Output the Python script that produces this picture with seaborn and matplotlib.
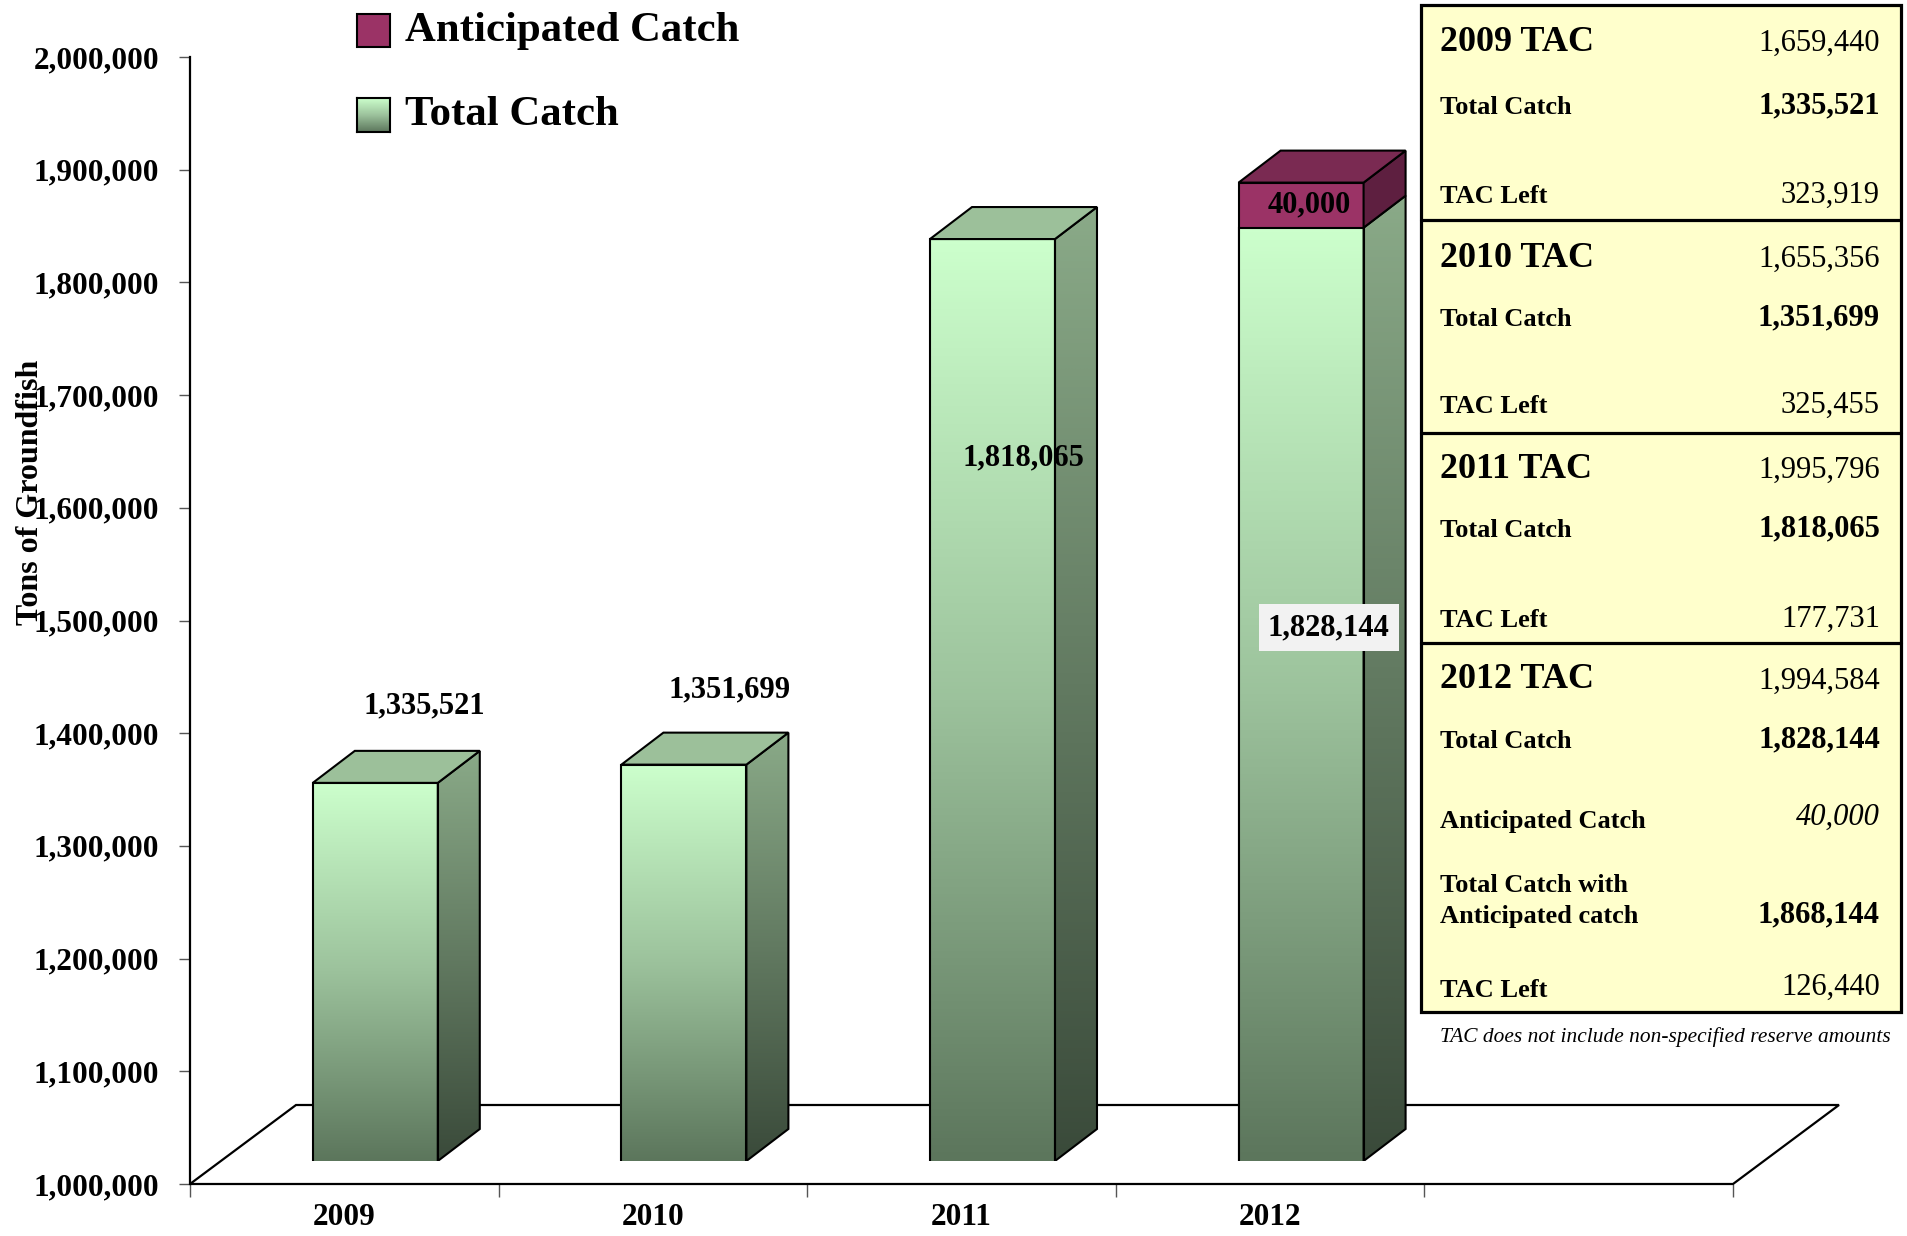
import numpy as np
import pandas as pd
import matplotlib
matplotlib.use('Agg')
import matplotlib.pyplot as plt
import seaborn as sns
from matplotlib.patches import Polygon, Rectangle
from matplotlib.colors import LinearSegmentedColormap

# ---------------- data ----------------
years = ['2009', '2010', '2011', '2012']
slots = years + ['']
total_catch = [1335521, 1351699, 1818065, 1828144]
anticipated = [0, 0, 0, 40000]
tac = [1659440, 1655356, 1995796, 1994584]
tac_left = [323919, 325455, 177731, 126440]
total_with_anticipated = 1868144
y_ticks = list(range(1000000, 2000001, 100000))

# ---------------- style ----------------
W, H, DPI = 1907, 1236, 100
sns.set_theme(style='white')
plt.rcParams['font.family'] = ['Liberation Serif', 'DejaVu Serif']
plt.rcParams['text.color'] = 'black'
plt.rcParams['axes.labelcolor'] = 'black'
plt.rcParams['xtick.color'] = 'black'
plt.rcParams['ytick.color'] = 'black'

PURPLE = '#9b3366'
PURPLE_TOP = '#7a2a52'
PURPLE_SIDE = '#5e1f40'
GREEN_TOP = '#9cc09a'
front_cmap = LinearSegmentedColormap.from_list(
    'front', [(0.0, '#5c765c'), (0.5, '#9cc29c'), (1.0, '#ccffcc')])
side_cmap = LinearSegmentedColormap.from_list('side', ['#3a4a3a', '#8aaa88'])
grad = np.linspace(0, 1, 256).reshape(-1, 1)

fig = plt.figure(figsize=(W / DPI, H / DPI), dpi=DPI)
fig.patch.set_facecolor('white')


def fx(px):
    return px / W


def fy(py):
    return 1 - py / H


# ---------------- main (floor) axes ----------------
AX_L, AX_R, AX_T, AX_B = 190, 1733, 57, 1184
ymin, ymax = 1_000_000, 2_000_000
ax = fig.add_axes([fx(AX_L), fy(AX_B), (AX_R - AX_L) / W, (AX_B - AX_T) / H])
ax.set_xlim(-0.5, 4.5)
ax.set_ylim(ymin, ymax)
px_per_x = (AX_R - AX_L) / 5
px_per_y = (AX_B - AX_T) / (ymax - ymin)


def dxy(px, py):
    return px / px_per_x, py / px_per_y


fdx, fdy = dxy(106, 79)
floor = Polygon([(-0.5, ymin), (4.5, ymin), (4.5 + fdx, ymin + fdy), (-0.5 + fdx, ymin + fdy)],
                closed=True, facecolor='white', edgecolor='black', lw=1.6, clip_on=False, zorder=1)
ax.add_patch(floor)

for s in ['top', 'right', 'bottom']:
    ax.spines[s].set_visible(False)
ax.spines['left'].set_color('black')
ax.spines['left'].set_linewidth(1.6)

ax.set_yticks(y_ticks)
ax.set_yticklabels([f'{v:,}' for v in y_ticks], fontsize=22.5, fontweight='bold', color='black')
ax.tick_params(axis='y', left=True, length=8, width=1, color='#555555', labelcolor='black',
               pad=14, direction='out')
ax.set_xticks(np.arange(-0.5, 5.0, 1.0))
ax.set_xticklabels([])
ax.set_xticks(range(len(years)), minor=True)
ax.set_xticklabels(years, minor=True, fontsize=22.5, fontweight='bold', color='black')
ax.tick_params(axis='x', which='major', bottom=True, length=9, width=1, color='#555555', direction='out')
ax.tick_params(axis='x', which='minor', bottom=True, length=0, pad=14, labelcolor='black')
ax.set_xlabel('')
ax.set_ylabel('')
fig.text(fx(31), fy(492), 'Tons of Groundfish', rotation=90, fontsize=23, fontweight='bold',
         ha='center', va='center', color='black')

# ---------------- bar front plane axes ----------------
OFF_X, OFF_Y = 31, 23
axf = fig.add_axes([fx(AX_L + OFF_X), fy(AX_B - OFF_Y), (AX_R - AX_L) / W, (AX_B - AX_T) / H])
df = pd.DataFrame({'year': years, 'total': total_catch, 'anticipated': anticipated})
df['stack'] = df['total'] + df['anticipated']
ant_df = df[df['anticipated'] > 0]

sns.barplot(data=ant_df, x='year', y='stack', order=slots, color=PURPLE, saturation=1,
            width=0.405, edgecolor='black', linewidth=1.5, errorbar=None, ax=axf, zorder=2)
purple_patches = list(axf.patches)
n0 = len(axf.patches)
sns.barplot(data=df, x='year', y='total', order=slots, color='#94ba94', saturation=1,
            width=0.405, edgecolor='black', linewidth=1.5, errorbar=None, ax=axf, zorder=4)
green_patches = list(axf.patches[n0:])

bdx, bdy = dxy(42, 32)
stack_top = {}
for p in purple_patches:
    x0, w, top = p.get_x(), p.get_width(), p.get_height()
    i = int(round(x0 + w / 2))
    stack_top[i] = top

for p in green_patches:
    x0, w, top = p.get_x(), p.get_width(), p.get_height()
    x1 = x0 + w
    i = int(round(x0 + w / 2))
    im = axf.imshow(grad, cmap=front_cmap, origin='lower', extent=[x0, x1, ymin, top],
                    aspect='auto', zorder=3, interpolation='bilinear')
    im.set_clip_path(p)
    p.set_facecolor('none')
    side = Polygon([(x1, ymin), (x1, top), (x1 + bdx, top + bdy), (x1 + bdx, ymin + bdy)],
                   closed=True, facecolor='none', edgecolor='black', lw=1.5, zorder=4)
    axf.add_patch(side)
    ims = axf.imshow(grad, cmap=side_cmap, origin='lower', extent=[x1, x1 + bdx, ymin, top + bdy],
                     aspect='auto', zorder=3, interpolation='bilinear')
    ims.set_clip_path(side)
    if i in stack_top:
        st = stack_top[i]
        pside = Polygon([(x1, top), (x1, st), (x1 + bdx, st + bdy), (x1 + bdx, top + bdy)],
                        closed=True, facecolor=PURPLE_SIDE, edgecolor='black', lw=1.5, zorder=4)
        axf.add_patch(pside)
        ptop = Polygon([(x0, st), (x1, st), (x1 + bdx, st + bdy), (x0 + bdx, st + bdy)],
                       closed=True, facecolor=PURPLE_TOP, edgecolor='black', lw=1.5, zorder=4)
        axf.add_patch(ptop)
    else:
        gtop = Polygon([(x0, top), (x1, top), (x1 + bdx, top + bdy), (x0 + bdx, top + bdy)],
                       closed=True, facecolor=GREEN_TOP, edgecolor='black', lw=1.5, zorder=4)
        axf.add_patch(gtop)

axf.set_xlim(-0.5, 4.5)
axf.set_ylim(ymin, ymax)
axf.axis('off')

# ---------------- bar labels (placed in floor-axes data coords) ----------------
lab_kw = dict(fontsize=22, fontweight='bold', transform=ax.transData, zorder=6, color='black')
axf.text(0 + 0.26, total_catch[0] + 82000, f'{total_catch[0]:,}', ha='center', va='baseline', **lab_kw)
axf.text(1 + 0.25, total_catch[1] + 80000, f'{total_catch[1]:,}', ha='center', va='baseline', **lab_kw)
axf.text(2 + 0.20, total_catch[2] - 174000, f'{total_catch[2]:,}', ha='center', va='center', **lab_kw)
axf.text(3 + 0.19, total_catch[3] - 341000, f'{total_catch[3]:,}', ha='center', va='baseline',
         bbox=dict(boxstyle='square,pad=0.3', facecolor='#f2f2f2', edgecolor='none'), **lab_kw)
axf.text(3 + 0.126, total_catch[3] + 34000, f'{anticipated[3]:,}', ha='center', va='baseline', **lab_kw)

# ---------------- legend ----------------
fig.add_artist(Rectangle((fx(357), fy(47)), 33 / W, 33 / H, transform=fig.transFigure,
                         facecolor=PURPLE, edgecolor='black', lw=1.5))
lax = fig.add_axes([fx(357), fy(132), 33 / W, 34 / H])
lax.imshow(grad, cmap=front_cmap, origin='lower', aspect='auto', extent=[0, 1, 0, 1])
lax.set_xticks([])
lax.set_yticks([])
for s in lax.spines.values():
    s.set_visible(True)
    s.set_color('black')
    s.set_linewidth(1.5)
fig.text(fx(405), fy(41), 'Anticipated Catch', fontsize=30.8, fontweight='bold', ha='left', va='baseline')
fig.text(fx(405), fy(125), 'Total Catch', fontsize=30.8, fontweight='bold', ha='left', va='baseline')

# ---------------- TAC table ----------------
TL, TR, TT, TB = 1421, 1901, 5, 1012
fig.add_artist(Rectangle((fx(TL), fy(TB)), (TR - TL) / W, (TB - TT) / H, transform=fig.transFigure,
                         facecolor='#ffffcc', edgecolor='black', lw=2.3, zorder=2))
for sep in [220, 433, 643]:
    fig.add_artist(plt.Line2D([fx(TL), fx(TR)], [fy(sep), fy(sep)], transform=fig.transFigure,
                              color='black', lw=2.3, zorder=3))

LX, RX = 1440, 1880
blocks = [(51, 114, 203), (267, 326, 413), (478, 537, 627)]
for k in range(3):
    yh, yt, yl = blocks[k]
    fig.text(fx(LX), fy(yh), f'{years[k]} TAC', fontsize=26, fontweight='bold', va='baseline', zorder=4)
    fig.text(fx(RX), fy(yh), f'{tac[k]:,}', fontsize=22, ha='right', va='baseline', zorder=4)
    fig.text(fx(LX), fy(yt), 'Total Catch', fontsize=19, fontweight='bold', va='baseline', zorder=4)
    fig.text(fx(RX), fy(yt - 1), f'{total_catch[k]:,}', fontsize=22, fontweight='bold', ha='right',
             va='baseline', zorder=4)
    fig.text(fx(LX), fy(yl), 'TAC Left', fontsize=19, fontweight='bold', va='baseline', zorder=4)
    fig.text(fx(RX), fy(yl), f'{tac_left[k]:,}', fontsize=22, ha='right', va='baseline', zorder=4)

fig.text(fx(LX), fy(688), f'{years[3]} TAC', fontsize=26, fontweight='bold', va='baseline', zorder=4)
fig.text(fx(RX), fy(689), f'{tac[3]:,}', fontsize=22, ha='right', va='baseline', zorder=4)
fig.text(fx(LX), fy(748), 'Total Catch', fontsize=19, fontweight='bold', va='baseline', zorder=4)
fig.text(fx(RX), fy(747), f'{total_catch[3]:,}', fontsize=22, fontweight='bold', ha='right',
         va='baseline', zorder=4)
fig.text(fx(LX), fy(828), 'Anticipated Catch', fontsize=19, fontweight='bold', va='baseline', zorder=4)
fig.text(fx(RX), fy(825), f'{anticipated[3]:,}', fontsize=22, style='italic', ha='right',
         va='baseline', zorder=4)
fig.text(fx(LX), fy(892), 'Total Catch with', fontsize=19, fontweight='bold', va='baseline', zorder=4)
fig.text(fx(LX), fy(923), 'Anticipated catch', fontsize=19, fontweight='bold', va='baseline', zorder=4)
fig.text(fx(RX), fy(922), f'{total_with_anticipated:,}', fontsize=22, fontweight='bold', ha='right',
         va='baseline', zorder=4)
fig.text(fx(LX), fy(997), 'TAC Left', fontsize=19, fontweight='bold', va='baseline', zorder=4)
fig.text(fx(RX), fy(995), f'{tac_left[3]:,}', fontsize=22, ha='right', va='baseline', zorder=4)
fig.text(fx(LX), fy(1042), 'TAC does not include non-specified reserve amounts', fontsize=15.4,
         style='italic', va='baseline', zorder=4)

fig.savefig('out.png', dpi=DPI, facecolor='white')
